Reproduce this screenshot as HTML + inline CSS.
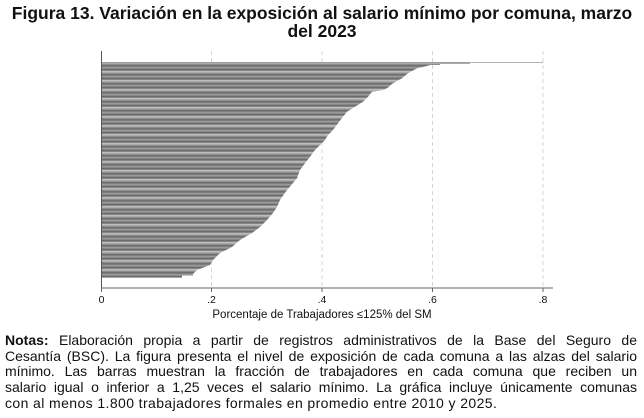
<!DOCTYPE html>
<html>
<head>
<meta charset="utf-8">
<style>
  html, body { margin:0; padding:0; background:#fff; }
  body { width:644px; height:418px; position:relative; overflow:hidden; font-family:"Liberation Sans", Arial, sans-serif; }
  .title { position:absolute; left:0; top:4px; width:644px; text-align:center; font-weight:bold; font-size:17.5px; line-height:18px; color:#111; }
  .notes { position:absolute; left:5px; top:333px; width:632px; font-size:14px; line-height:15.7px; color:#111; }
  .notes div { white-space:nowrap; text-align:justify; text-align-last:justify; }
  .notes div.last { text-align:left; text-align-last:left; letter-spacing:0.4px; }
  svg { position:absolute; left:0; top:0; }
</style>
</head>
<body>
<svg width="644" height="418" viewBox="0 0 644 418" xmlns="http://www.w3.org/2000/svg">
  <defs>
    <pattern id="stripes" x="0" y="63" width="10" height="9" patternUnits="userSpaceOnUse">
      <rect x="0" y="0" width="10" height="1" fill="#ababab"/>
      <rect x="0" y="1" width="10" height="1" fill="#8e8e8e"/>
      <rect x="0" y="2" width="10" height="1" fill="#707070"/>
      <rect x="0" y="3" width="10" height="1" fill="#7d7d7d"/>
      <rect x="0" y="4" width="10" height="1" fill="#9a9a9a"/>
      <rect x="0" y="5" width="10" height="1" fill="#888888"/>
      <rect x="0" y="6" width="10" height="1" fill="#6c6c6c"/>
      <rect x="0" y="7" width="10" height="1" fill="#858585"/>
      <rect x="0" y="8" width="10" height="1" fill="#bdbdbd"/>
    </pattern>
  </defs>

  <!-- gridlines -->
  <g stroke="#d6d6d6" stroke-width="1" stroke-dasharray="4,3">
    <line x1="211.5" y1="51" x2="211.5" y2="288"/>
    <line x1="322" y1="51" x2="322" y2="288"/>
    <line x1="432.5" y1="51" x2="432.5" y2="288"/>
    <line x1="543" y1="51" x2="543" y2="288"/>
  </g>

  <!-- top thin bars -->
  <rect x="102" y="62" width="441" height="1" fill="#b3b3b3"/>
  <rect x="102" y="62" width="368" height="2" fill="#9c9c9c"/>

  <!-- bars -->
  <polygon fill="url(#stripes)" points="
    102,63 470,63 470,64 440,64 440,65 430,65 427,66 417,68.3 408,73.3 402,78.3 393,83.3
    387,88.3 383,90 372,91.7 368,96.7 363,101.7 355,106.7 347,111.7 343,116.7 338,123.3
    333,130 328,135 325,140 320,145 315,150 310,156.7 305,163.3 300,170 297,178.3 293,183
    287,190 282,197 280,200 277,207 273,213 267,220 260,227 252,233 240,240 232,247
    220,253 213,260 210,265 197,270 193,274 193,275.5 182,275.5 182,277.7 102,277.7"/>

  <!-- axes -->
  <line x1="101.5" y1="51" x2="101.5" y2="288.5" stroke="#555" stroke-width="1"/>
  <line x1="101" y1="288" x2="553" y2="288" stroke="#666" stroke-width="1"/>
  <g stroke="#666" stroke-width="1">
    <line x1="101.5" y1="288" x2="101.5" y2="292"/>
    <line x1="211.5" y1="288" x2="211.5" y2="292"/>
    <line x1="322" y1="288" x2="322" y2="292"/>
    <line x1="432.5" y1="288" x2="432.5" y2="292"/>
    <line x1="543" y1="288" x2="543" y2="292"/>
  </g>

  <!-- tick labels -->
  <g font-family="Liberation Sans, Arial, sans-serif" font-size="10.5" fill="#111" text-anchor="middle">
    <text x="101.5" y="303">0</text>
    <text x="211.5" y="303">.2</text>
    <text x="322" y="303">.4</text>
    <text x="432.5" y="303">.6</text>
    <text x="543" y="303">.8</text>
  </g>
  <text x="322" y="318" font-family="Liberation Sans, Arial, sans-serif" font-size="11.5" fill="#111" text-anchor="middle">Porcentaje de Trabajadores ≤125% del SM</text>
</svg>

<div class="title">Figura 13. Variación en la exposición al salario mínimo por comuna, marzo<br>del 2023</div>

<div class="notes">
  <div><b>Notas:</b> Elaboración propia a partir de registros administrativos de la Base del Seguro de</div>
  <div>Cesantía (BSC). La figura presenta el nivel de exposición de cada comuna a las alzas del salario</div>
  <div>mínimo. Las barras muestran la fracción de trabajadores en cada comuna que reciben un</div>
  <div>salario igual o inferior a 1,25 veces el salario mínimo. La gráfica incluye únicamente comunas</div>
  <div class="last">con al menos 1.800 trabajadores formales en promedio entre 2010 y 2025.</div>
</div>
</body>
</html>
